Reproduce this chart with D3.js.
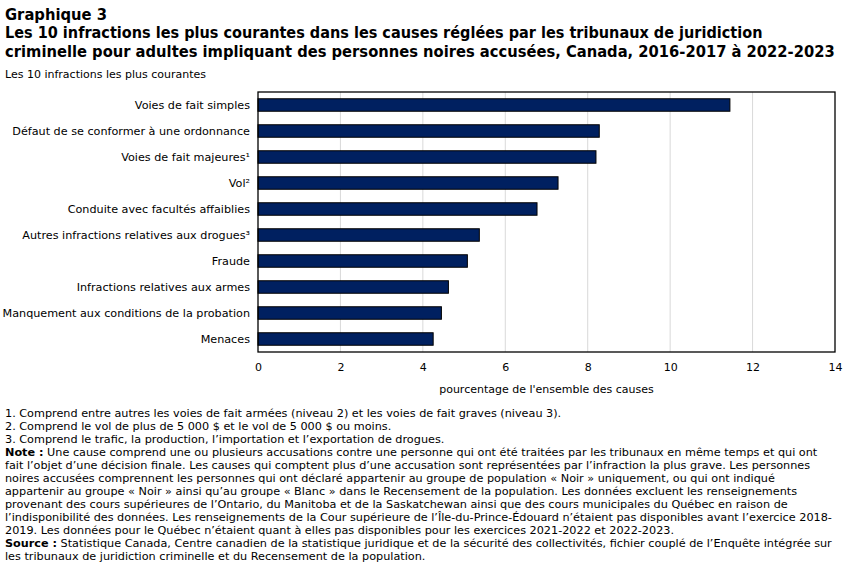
<!DOCTYPE html>
<html><head><meta charset="utf-8">
<script src="https://cdn.jsdelivr.net/npm/d3@7"></script>
<style>
html,body{margin:0;padding:0;background:#fff;}
text{font-family:"DejaVu Sans",Verdana,sans-serif;fill:#000;}
</style></head>
<body>
<svg id="c" width="850" height="567"></svg>
<script>
const categories = [
  "Voies de fait simples",
  "Défaut de se conformer à une ordonnance",
  "Voies de fait majeures¹",
  "Vol²",
  "Conduite avec facultés affaiblies",
  "Autres infractions relatives aux drogues³",
  "Fraude",
  "Infractions relatives aux armes",
  "Manquement aux conditions de la probation",
  "Menaces"
];
const values = [11.45, 8.28, 8.20, 7.28, 6.77, 5.37, 5.08, 4.62, 4.45, 4.25];
const xTicks = [0, 2, 4, 6, 8, 10, 12, 14];

const titleLines = [
  "Graphique 3",
  "Les 10 infractions les plus courantes dans les causes réglées par les tribunaux de juridiction",
  "criminelle pour adultes impliquant des personnes noires accusées, Canada, 2016-2017 à 2022-2023"
];
const subtitle = "Les 10 infractions les plus courantes";
const xTitle = "pourcentage de l'ensemble des causes";
const notes = [
  [null, "1. Comprend entre autres les voies de fait armées (niveau 2) et les voies de fait graves (niveau 3)."],
  [null, "2. Comprend le vol de plus de 5 000 $ et le vol de 5 000 $ ou moins."],
  [null, "3. Comprend le trafic, la production, l’importation et l’exportation de drogues."],
  ["Note :", " Une cause comprend une ou plusieurs accusations contre une personne qui ont été traitées par les tribunaux en même temps et qui ont"],
  [null, "fait l’objet d’une décision finale. Les causes qui comptent plus d’une accusation sont représentées par l’infraction la plus grave. Les personnes"],
  [null, "noires accusées comprennent les personnes qui ont déclaré appartenir au groupe de population « Noir » uniquement, ou qui ont indiqué"],
  [null, "appartenir au groupe « Noir » ainsi qu’au groupe « Blanc » dans le Recensement de la population. Les données excluent les renseignements"],
  [null, "provenant des cours supérieures de l’Ontario, du Manitoba et de la Saskatchewan ainsi que des cours municipales du Québec en raison de"],
  [null, "l’indisponibilité des données. Les renseignements de la Cour supérieure de l’Île-du-Prince-Édouard n’étaient pas disponibles avant l’exercice 2018-"],
  [null, "2019. Les données pour le Québec n’étaient quant à elles pas disponibles pour les exercices 2021-2022 et 2022-2023."],
  ["Source :", " Statistique Canada, Centre canadien de la statistique juridique et de la sécurité des collectivités, fichier couplé de l’Enquête intégrée sur"],
  [null, "les tribunaux de juridiction criminelle et du Recensement de la population."]
];

const svg = d3.select("#c");
const M = {left: 258, right: 835, top: 92, bottom: 352};

const x = d3.scaleLinear().domain([0, 14]).range([M.left, M.right]);
const y = d3.scaleBand().domain(categories).range([M.top, M.bottom]).paddingInner(0.52).paddingOuter(0.26);

function squash(sel, s) {
  const tx = +sel.attr("x") || 0, ty = +sel.attr("y") || 0;
  sel.attr("transform", `translate(${tx},${ty}) scale(${s},1) translate(${-tx},${-ty})`);
}
function fitText(sel, w) {
  const bw = sel.node().getComputedTextLength();
  if (bw > 0) squash(sel, w / bw);
}

// Titles
const tW = [102, 758, 830];
titleLines.forEach((t, i) => {
  const el = svg.append("text").attr("x", 5).attr("y", 20 + i * 18.5)
    .style("font-size", "15px").style("font-weight", "bold").text(t);
  fitText(el, tW[i]);
});
svg.append("text").attr("x", 5).attr("y", 78).style("font-size", "11px").text(subtitle);

// Gridlines
svg.append("g").selectAll("line").data(xTicks.filter(d => d > 0 && d < 14)).join("line")
  .attr("x1", d => x(d)).attr("x2", d => x(d)).attr("y1", M.top).attr("y2", M.bottom)
  .attr("stroke", "#d9d9d9").attr("stroke-width", 1);

// Bars
svg.append("g").selectAll("rect").data(categories).join("rect")
  .attr("x", x(0)).attr("y", (d) => y(d))
  .attr("width", (d, i) => x(values[i]) - x(0)).attr("height", y.bandwidth())
  .attr("fill", "#002060").attr("stroke", "#000").attr("stroke-width", 1);

// Frame
svg.append("rect").attr("x", M.left).attr("y", M.top).attr("width", M.right - M.left)
  .attr("height", M.bottom - M.top).attr("fill", "none").attr("stroke", "#000").attr("stroke-width", 1.3);

// Y axis labels
const yAxis = d3.axisLeft(y).tickSize(0).tickPadding(8);
const gy = svg.append("g").attr("transform", `translate(${M.left},0)`).call(yAxis);
gy.select(".domain").remove();
gy.selectAll("text").style("font-size", "11.2px").style("font-family", "DejaVu Sans").attr("fill", "#000");

// X axis
const xAxis = d3.axisBottom(x).tickValues(xTicks).tickSize(0).tickPadding(11).tickFormat(d3.format("d"));
const gx = svg.append("g").attr("transform", `translate(0,${M.bottom})`).call(xAxis);
gx.select(".domain").remove();
gx.selectAll("text").style("font-size", "11px").style("font-family", "DejaVu Sans").attr("fill", "#000");

svg.append("text").attr("x", (M.left + M.right) / 2).attr("y", 393).attr("text-anchor", "middle")
  .style("font-size", "11px").text(xTitle);

// Notes: uniform horizontal squash, capped so the longest line ends near x=833
const noteEls = notes.map((n, i) => {
  const t = svg.append("text").attr("x", 5).attr("y", 417 + i * 13).style("font-size", "11px");
  if (n[0]) t.append("tspan").style("font-weight", "bold").text(n[0]);
  t.append("tspan").text(n[1]);
  return t;
});
const s1 = 563 / noteEls[0].node().getComputedTextLength();
const s5 = 820 / noteEls[4].node().getComputedTextLength();
const maxLen = d3.max(noteEls, t => t.node().getComputedTextLength());
const s = Math.min((s1 + s5) / 2, 828 / maxLen);
noteEls.forEach(t => squash(t, s));
</script>
</body></html>
